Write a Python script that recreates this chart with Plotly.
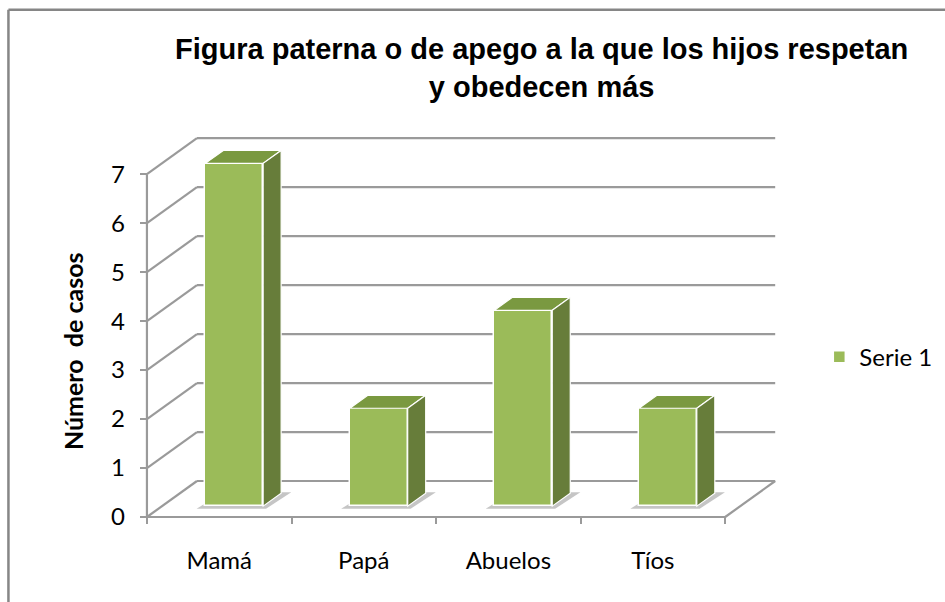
import plotly.graph_objects as go

# ---------------- data ----------------
categories = ["Mamá", "Papá", "Abuelos", "Tíos"]
values = [7, 2, 4, 2]
y_ticks = [0, 1, 2, 3, 4, 5, 6, 7]
series_name = "Serie 1"
title_text = "Figura paterna o de apego a la que los hijos respetan<br>y obedecen más"
y_title = "Número  de casos"

# ---------------- layout geometry ----------------
W, H = 945, 602
L, R_, T, B = 140, 162.3, 134.8, 78
X0, X1 = -0.548, 3.9
Y0, Y1 = -0.143, 7.8
plot_w = W - L - R_
plot_h = H - T - B

def px2x(px):
    return (px - L) / plot_w

def py2y(py):
    return (H - B - py) / plot_h

# depth of 3D box (in data units)
DX, DY = 0.346, 0.735
F1, F2 = 0.30, 0.66          # bar front / back depth fractions
BAR_W = 0.40
ymax = max(y_ticks)
n = len(categories)

GRID = "#9a9a9a"
FRONT = "#9BBB59"
SIDE = "#677D3A"
TOP = "#7A9940"
TICKFONT = "Lato, Carlito, Calibri"

shapes = []

def line(x0, y0, x1, y1, color=GRID, width=2.2, layer="below"):
    shapes.append(dict(type="line", xref="x", yref="y", x0=x0, y0=y0, x1=x1, y1=y1,
                       line=dict(color=color, width=width), layer=layer))

def poly(pts, fill, lcolor="white", lwidth=1.2, layer="above", opacity=1.0):
    path = "M " + " L ".join(f"{x},{y}" for x, y in pts) + " Z"
    shapes.append(dict(type="path", xref="x", yref="y", path=path, fillcolor=fill,
                       line=dict(color=lcolor, width=lwidth), layer=layer, opacity=opacity))

left = -0.5
right = n - 0.5
# back wall gridlines and left wall diagonals
for v in y_ticks:
    line(left + DX, v + DY, right + DX, v + DY)
    line(left, v, left + DX, v + DY)
# front y axis line
line(left, 0, left, ymax)
# floor front edge and right edge
line(left, 0, right, 0)
line(right, 0, right + DX, DY)

# bars 3D faces
fdx, fdy = F1 * DX, F1 * DY
ddx, ddy = (F2 - F1) * DX, (F2 - F1) * DY
bar_x = []
for i, v in enumerate(values):
    cx = i + fdx
    bar_x.append(cx)
    xa, xb = cx - BAR_W / 2, cx + BAR_W / 2
    b = fdy
    # shadow on floor
    poly([(xa - 0.06, b - 0.05), (xb + 0.02, b - 0.05), (xb + ddx + 0.07, b + ddy + 0.02),
          (xa + ddx, b + ddy + 0.02)], "rgba(110,110,110,0.4)", lcolor="rgba(0,0,0,0)",
         lwidth=0, layer="below")
    # top face
    poly([(xa, v + b), (xb, v + b), (xb + ddx, v + b + ddy), (xa + ddx, v + b + ddy)], TOP)
    # side face
    poly([(xb, b), (xb, v + b), (xb + ddx, v + b + ddy), (xb + ddx, b + ddy)], SIDE)

fig = go.Figure()
fig.add_trace(go.Bar(
    x=bar_x, y=values, base=fdy, width=BAR_W, name=series_name,
    marker=dict(color=FRONT, line=dict(color="white", width=1.5)),
    showlegend=True, hoverinfo="skip"))

# outer border (left and top edges visible)
shapes.append(dict(type="line", xref="paper", yref="paper", x0=px2x(8.5), y0=py2y(9.5),
                   x1=px2x(960), y1=py2y(9.5), line=dict(color="#868686", width=2.5)))
shapes.append(dict(type="line", xref="paper", yref="paper", x0=px2x(8.5), y0=py2y(9.5),
                   x1=px2x(8.5), y1=py2y(620), line=dict(color="#868686", width=2.5)))

annotations = [
    dict(text=f"<b>{title_text}</b>", xref="paper", yref="paper", x=px2x(541), y=py2y(68),
         xanchor="center", yanchor="middle", showarrow=False,
         font=dict(family="Liberation Sans, Arial", size=29, color="black")),
    dict(text=f"<b>{y_title}</b>", xref="paper", yref="paper", x=px2x(73), y=py2y(351),
         xanchor="center", yanchor="middle", showarrow=False, textangle=-90,
         font=dict(family=TICKFONT, size=25, color="black")),
]

fig.update_layout(
    width=W, height=H,
    margin=dict(l=L, r=R_, t=T, b=B, autoexpand=False),
    paper_bgcolor="white", plot_bgcolor="white",
    shapes=shapes, annotations=annotations,
    bargap=0,
    showlegend=True,
    legend=dict(x=px2x(819), y=py2y(357), xanchor="left", yanchor="middle",
                font=dict(family=TICKFONT, size=24, color="black"),
                bgcolor="rgba(0,0,0,0)"),
    xaxis=dict(range=[X0, X1], tickvals=list(range(n)), ticktext=categories,
               ticks="", showgrid=False, zeroline=False, showline=False,
               tickfont=dict(family=TICKFONT, size=24, color="black"),
               ticklabelstandoff=20,
               minor=dict(tickvals=[k - 0.5 for k in range(n + 1)], ticks="inside",
                          ticklen=7, tickcolor=GRID, tickwidth=2, showgrid=False),
               fixedrange=True),
    yaxis=dict(range=[Y0, Y1], tickvals=y_ticks, ticks="inside", ticklen=7,
               tickcolor=GRID, tickwidth=2, showgrid=False, zeroline=False, showline=False,
               tickfont=dict(family=TICKFONT, size=24, color="black"),
               ticklabelstandoff=14, fixedrange=True),
)

fig.write_html("out.html", config={"displayModeBar": False},
               post_script="document.body.style.margin='0';document.body.style.padding='0';")
